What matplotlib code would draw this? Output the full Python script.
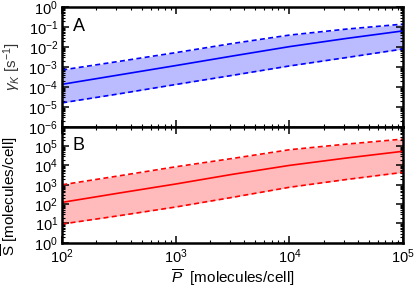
import numpy as np
import matplotlib
matplotlib.use("Agg")
import matplotlib.pyplot as plt
from matplotlib.ticker import LogLocator, NullFormatter

plt.rcParams['font.family'] = ['Liberation Sans', 'DejaVu Sans']
plt.rcParams['mathtext.fontset'] = 'custom'
plt.rcParams['mathtext.rm'] = 'Liberation Sans'
plt.rcParams['mathtext.it'] = 'Liberation Sans:italic'
plt.rcParams['mathtext.sf'] = 'Liberation Sans'

# Data (log10 values)
p_values = [1e2, 10**2.5, 1e3, 10**3.5, 1e4, 10**4.5, 1e5]
gamma_center_log = [-3.87, -3.40, -2.93, -2.45, -1.98, -1.57, -1.19]
gamma_upper_log = [-3.15, -2.72, -2.28, -1.82, -1.40, -1.10, -0.85]
gamma_lower_log = [-4.80, -4.35, -3.88, -3.42, -2.95, -2.53, -2.10]
s_center_log = [2.09, 2.57, 3.04, 3.54, 4.00, 4.38, 4.73]
s_upper_log = [3.00, 3.46, 3.93, 4.36, 4.81, 5.10, 5.36]
s_lower_log = [0.97, 1.40, 1.85, 2.35, 2.87, 3.27, 3.64]

P = np.array(p_values)
g_c, g_u, g_l = (10 ** np.array(a) for a in (gamma_center_log, gamma_upper_log, gamma_lower_log))
s_c, s_u, s_l = (10 ** np.array(a) for a in (s_center_log, s_upper_log, s_lower_log))

fig = plt.figure(figsize=(4.15, 2.88), dpi=100)
ax1 = fig.add_axes([0.150, 0.560, 0.821, 0.415])
ax2 = fig.add_axes([0.150, 0.157, 0.821, 0.403], sharex=ax1)

def style(ax, ylim):
    ax.set_xscale('log')
    ax.set_yscale('log')
    ax.set_xlim(1e2, 1e5)
    ax.set_ylim(*ylim)
    ax.tick_params(which='both', direction='in', top=True, right=True, labelsize=10.5, pad=3)
    ax.tick_params(which='major', length=5, width=1.1)
    ax.tick_params(which='minor', length=2.5, width=0.8)
    ax.yaxis.set_major_locator(LogLocator(base=10, numticks=20))
    ax.yaxis.set_minor_locator(LogLocator(base=10, subs=np.arange(2, 10), numticks=100))
    ax.yaxis.set_minor_formatter(NullFormatter())
    ax.xaxis.set_minor_locator(LogLocator(base=10, subs=np.arange(2, 10), numticks=100))
    for s in ax.spines.values():
        s.set_linewidth(1.8)

dash = (0, (3, 2))

# Panel A
ax1.fill_between(P, g_l, g_u, color='#bbbbff', lw=0)
ax1.plot(P, g_c, color='#0000ff', lw=1.2)
ax1.plot(P, g_u, color='#0000ff', lw=1.2, ls=dash)
ax1.plot(P, g_l, color='#0000ff', lw=1.2, ls=dash)
style(ax1, (1e-6, 1e0))
ax1.tick_params(labelbottom=False)
ax1.set_ylabel(r'$\gamma_K$ [s$^{-1}$]', fontsize=11, color='#333333')
ax1.yaxis.set_label_coords(-0.116, 0.5)
ax1.text(0.03, 0.80, 'A', transform=ax1.transAxes, fontsize=13)

# Panel B
ax2.fill_between(P, s_l, s_u, color='#ffbbbb', lw=0)
ax2.plot(P, s_c, color='#ff0000', lw=1.2)
ax2.plot(P, s_u, color='#ff0000', lw=1.2, ls=dash)
ax2.plot(P, s_l, color='#ff0000', lw=1.2, ls=dash)
style(ax2, (1e0, 1e6))
ax2.set_yticks([1e0, 1e1, 1e2, 1e3, 1e4, 1e5])
ax2.set_ylabel(r'$\overline{\mathrm{S}}$ [molecules/cell]', fontsize=11)
ax2.yaxis.set_label_coords(-0.124, 0.40)
ax2.set_xlabel(r'$\overline{P}$  [molecules/cell]', fontsize=11, labelpad=1)
ax2.text(0.03, 0.80, 'B', transform=ax2.transAxes, fontsize=13)

fig.savefig('out.png', dpi=100)
